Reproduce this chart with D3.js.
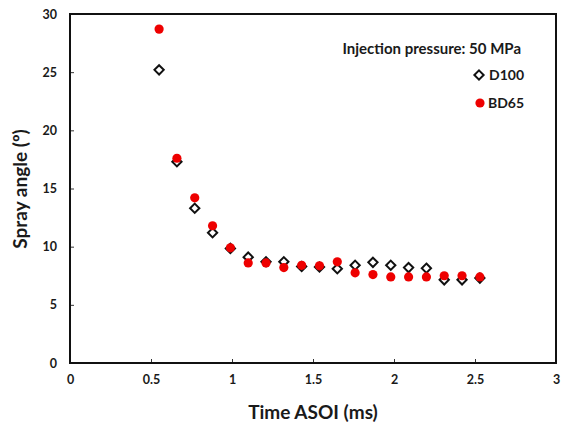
<!DOCTYPE html>
<html><head><meta charset="utf-8">
<script src="https://cdn.jsdelivr.net/npm/d3@7"></script>
<style>body{margin:0;background:#fff}svg{display:block}text{font-family:Lato,"Open Sans",sans-serif;font-weight:bold;fill:#1a1a1a}</style>
</head><body><svg id="c" width="569" height="430"></svg>
<script>
const times = [0.55,0.66,0.77,0.88,0.99,1.10,1.21,1.32,1.43,1.54,1.65,1.76,1.87,1.98,2.09,2.20,2.31,2.42,2.53];
const d100 = [25.2,17.3,13.3,11.2,9.85,9.1,8.7,8.7,8.3,8.25,8.1,8.4,8.65,8.4,8.2,8.15,7.15,7.15,7.3];
const bd65 = [28.7,17.6,14.2,11.8,9.9,8.6,8.6,8.2,8.4,8.35,8.7,7.75,7.6,7.4,7.4,7.4,7.5,7.5,7.4];
const xTicks = [0,0.5,1,1.5,2,2.5,3];
const yTicks = [0,5,10,15,20,25,30];
const legendTitle = "Injection pressure: 50 MPa";
const seriesNames = ["D100","BD65"];

const svg = d3.select("#c");
const L=70,R=556,T=14,B=363;
const x = d3.scaleLinear().domain([0,3]).range([L,R]);
const y = d3.scaleLinear().domain([0,30]).range([B,T]);

const xa = svg.append("g").attr("transform",`translate(0,${B})`)
  .call(d3.axisBottom(x).tickValues(xTicks).tickSize(-4).tickPadding(12).tickFormat(d=>String(d)));
const ya = svg.append("g").attr("transform",`translate(${L},0)`)
  .call(d3.axisLeft(y).tickValues(yTicks).tickSize(-4).tickPadding(13).tickFormat(d=>String(d)));
[xa,ya].forEach(a=>{a.select(".domain").remove();a.selectAll(".tick line").attr("stroke","#333").attr("stroke-width",1);
  a.selectAll("text").style("font-size","12.5px").style("font-family","Lato,sans-serif").style("font-weight","bold").attr("fill","#222");});

svg.append("rect").attr("x",L).attr("y",T).attr("width",R-L).attr("height",B-T)
  .attr("fill","none").attr("stroke","#111").attr("stroke-width",2);

const dsym = d3.symbol().type(d3.symbolDiamond2).size(55);
svg.append("g").selectAll("path").data(times.map((t,i)=>[t,d100[i]])).join("path")
  .attr("d",dsym).attr("transform",d=>`translate(${x(d[0])},${y(d[1])})`)
  .attr("fill","#fff").attr("stroke","#111").attr("stroke-width",2);
svg.append("g").selectAll("circle").data(times.map((t,i)=>[t,bd65[i]])).join("circle")
  .attr("cx",d=>x(d[0])).attr("cy",d=>y(d[1])).attr("r",4.6).attr("fill","#ee0000");

svg.append("text").attr("x",313).attr("y",419).attr("text-anchor","middle").style("font-size","19px").text("Time ASOI (ms)");
svg.append("text").attr("transform","translate(27,189) rotate(-90)").attr("text-anchor","middle").style("font-size","19px").text("Spray angle (º)");

svg.append("text").attr("x",521).attr("y",54).attr("text-anchor","end").style("font-size","15px").text(legendTitle);
svg.append("path").attr("d",dsym).attr("transform","translate(479,75)")
  .attr("fill","#fff").attr("stroke","#111").attr("stroke-width",2);
svg.append("text").attr("x",489).attr("y",80).style("font-size","14px").text(seriesNames[0]);
svg.append("circle").attr("cx",480).attr("cy",103).attr("r",4.6).attr("fill","#ee0000");
svg.append("text").attr("x",488).attr("y",108).style("font-size","14px").text(seriesNames[1]);
</script></body></html>
